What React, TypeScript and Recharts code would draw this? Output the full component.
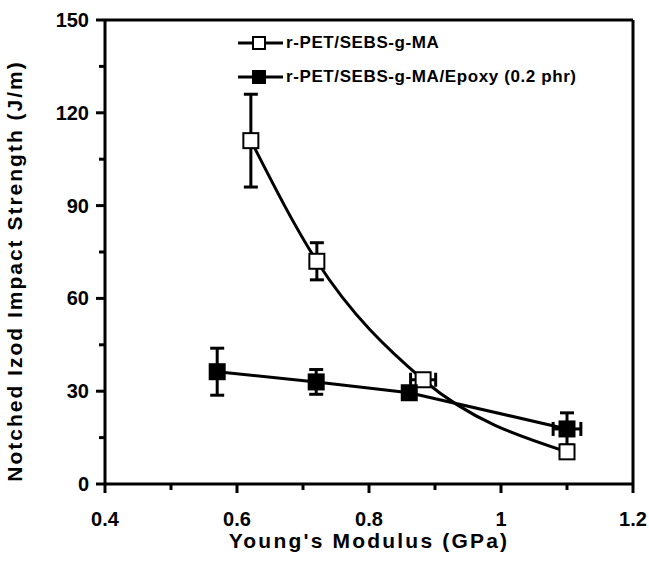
import React from "react";
import { ComposedChart, Line, Scatter, ErrorBar, XAxis, YAxis, ReferenceLine } from "recharts";

// r-PET/SEBS-g-MA (open squares)
const pureX = [0.621, 0.721, 0.882, 1.1];
const pureY = [111, 72, 33.7, 10.4];
const pureErrY = [15, 6, 0, 0];
const pureErrX = [0, 0, 0.019, 0];

// r-PET/SEBS-g-MA/Epoxy (filled squares)
const epoxyX = [0.57, 0.72, 0.861, 1.1];
const epoxyY = [36.3, 33, 29.5, 17.8];
const epoxyErrY = [7.6, 4, 0, 5.2];
const epoxyErrX = [0, 0, 0, 0.021];

const xTicks = [0.4, 0.5, 0.6, 0.7, 0.8, 0.9, 1.0, 1.1, 1.2];
const yTicks = [0, 15, 30, 45, 60, 75, 90, 105, 120, 135, 150];
const legendLabels = ["r-PET/SEBS-g-MA", "r-PET/SEBS-g-MA/Epoxy (0.2 phr)"];

const FONT = "'Liberation Sans', Arial, sans-serif";

const pureData = pureX.map((x, i) => ({ x, y: pureY[i], ey: pureErrY[i], ex: pureErrX[i] }));
const epoxyData = epoxyX.map((x, i) => ({ x, y: epoxyY[i], ey: epoxyErrY[i], ex: epoxyErrX[i] }));

const XTick = (props: any) => {
  const { x, y, payload } = props;
  const v = payload.value;
  const major = Math.round(v * 10) % 2 === 0;
  return (
    <g>
      <line x1={x} x2={x} y1={y} y2={y + (major ? 9 : 6)} stroke="#000" strokeWidth={3} />
      {major && (
        <text x={x} y={y + 35} dy="0.35em" textAnchor="middle" fontFamily={FONT} fontWeight="bold" fontSize={20} fill="#000">
          {String(Number(v.toFixed(1)))}
        </text>
      )}
    </g>
  );
};

const YTick = (props: any) => {
  const { x, y, payload } = props;
  const v = payload.value;
  const major = v % 30 === 0;
  return (
    <g>
      <line x1={x - (major ? 9 : 6)} x2={x} y1={y} y2={y} stroke="#000" strokeWidth={3} />
      {major && (
        <text x={x - 16} y={y} dy="0.35em" textAnchor="end" fontFamily={FONT} fontWeight="bold" fontSize={20} fill="#000">
          {v}
        </text>
      )}
    </g>
  );
};

const openSquare = (p: any) => (
  <rect x={p.cx - 7.5} y={p.cy - 7.5} width={15} height={15} fill="#fff" stroke="#000" strokeWidth={2} />
);
const filledSquare = (p: any) => (
  <rect x={p.cx - 8.5} y={p.cy - 8.5} width={17} height={17} fill="#000" />
);

function LegendBox() {
  const rows = [
    { label: legendLabels[0], filled: false },
    { label: legendLabels[1], filled: true },
  ];
  return (
    <div style={{ position: "absolute", left: 236, top: 30 }}>
      {rows.map((r, i) => (
        <div key={i} style={{ display: "flex", alignItems: "center", height: 26, marginBottom: 8 }}>
          <svg width={50} height={26}>
            <line x1={2} x2={47} y1={13} y2={13} stroke="#000" strokeWidth={3} />
            <rect x={17} y={7} width={12} height={12} fill={r.filled ? "#000" : "#fff"} stroke="#000" strokeWidth={2} />
          </svg>
          <span style={{ fontFamily: FONT, fontWeight: "bold", fontSize: 17, letterSpacing: 0.6, color: "#000" }}>
            {r.label}
          </span>
        </div>
      ))}
    </div>
  );
}

export default function App() {
  return (
    <div style={{ position: "absolute", left: 0, top: 0, width: 649, height: 569, background: "#fff" }}>
      <ComposedChart width={649} height={569} margin={{ top: 20, right: 16, left: 0, bottom: 0 }}>
        <XAxis
          type="number"
          dataKey="x"
          domain={[0.4, 1.2]}
          ticks={xTicks}
          interval={0}
          height={85}
          tickSize={0}
          tickMargin={0}
          tickLine={false}
          axisLine={{ stroke: "#000", strokeWidth: 3 }}
          tick={<XTick />}
          allowDataOverflow
        />
        <YAxis
          type="number"
          domain={[0, 150]}
          ticks={yTicks}
          interval={0}
          width={105}
          tickSize={0}
          tickMargin={0}
          tickLine={false}
          axisLine={{ stroke: "#000", strokeWidth: 3 }}
          tick={<YTick />}
          allowDataOverflow
        />
        <ReferenceLine y={150} stroke="#000" strokeWidth={3} />
        <ReferenceLine x={1.2} stroke="#000" strokeWidth={3} />
        <Line data={pureData} dataKey="y" type="monotone" stroke="#000" strokeWidth={3} dot={false} isAnimationActive={false} />
        <Line data={epoxyData} dataKey="y" type="linear" stroke="#000" strokeWidth={3} dot={false} isAnimationActive={false} />
        <Scatter data={pureData} dataKey="y" shape={openSquare} isAnimationActive={false}>
          <ErrorBar dataKey="ey" direction="y" width={7} stroke="#000" strokeWidth={3} />
          <ErrorBar dataKey="ex" direction="x" width={7} stroke="#000" strokeWidth={3} />
        </Scatter>
        <Scatter data={epoxyData} dataKey="y" shape={filledSquare} isAnimationActive={false}>
          <ErrorBar dataKey="ey" direction="y" width={7} stroke="#000" strokeWidth={3} />
          <ErrorBar dataKey="ex" direction="x" width={7} stroke="#000" strokeWidth={3} />
        </Scatter>
      </ComposedChart>
      <div
        style={{
          position: "absolute",
          left: 369,
          top: 541,
          transform: "translate(-50%, -50%)",
          whiteSpace: "nowrap",
          fontFamily: FONT,
          fontWeight: "bold",
          fontSize: 21,
          letterSpacing: 2.2,
        }}
      >
        Young's Modulus (GPa)
      </div>
      <div
        style={{
          position: "absolute",
          left: 15,
          top: 271,
          transform: "translate(-50%, -50%) rotate(-90deg)",
          whiteSpace: "nowrap",
          fontFamily: FONT,
          fontWeight: "bold",
          fontSize: 21,
          letterSpacing: 2,
        }}
      >
        Notched Izod Impact Strength (J/m)
      </div>
      <LegendBox />
    </div>
  );
}
